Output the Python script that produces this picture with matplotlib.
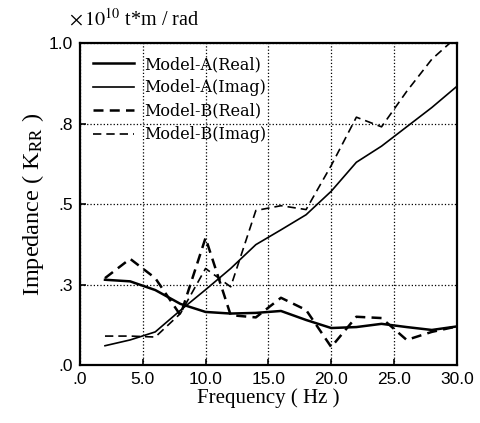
import matplotlib.pyplot as plt

plt.rcParams['mathtext.fontset'] = 'stix'

# Частота, Гц
freq = [2, 4, 6, 8, 10, 12, 14, 16, 18, 20, 22, 24, 26, 28, 30]
# Импеданс K_RR (x10^10 t*m/rad)
a_real = [0.265, 0.26, 0.233, 0.19, 0.165, 0.16, 0.162, 0.168, 0.14, 0.115, 0.118, 0.128, 0.118, 0.109, 0.12]
a_imag = [0.06, 0.078, 0.103, 0.17, 0.234, 0.30, 0.374, 0.42, 0.467, 0.54, 0.63, 0.68, 0.74, 0.80, 0.866]
b_real = [0.27, 0.33, 0.27, 0.155, 0.395, 0.155, 0.148, 0.209, 0.171, 0.056, 0.15, 0.146, 0.078, 0.103, 0.12]
b_imag = [0.09, 0.09, 0.087, 0.16, 0.30, 0.243, 0.48, 0.495, 0.483, 0.62, 0.77, 0.74, 0.85, 0.95, 1.02]

xticks = [0, 5, 10, 15, 20, 25, 30]
xtick_labels = ['.0', '5.0', '10.0', '15.0', '20.0', '25.0', '30.0']
yticks = [0, 0.25, 0.5, 0.75, 1.0]
ytick_labels = ['.0', '.3', '.5', '.8', '1.0']

fig = plt.figure(figsize=(4.81, 4.23), dpi=100)
ax = fig.add_axes([0.166, 0.137, 0.784, 0.761])

# Построим графики
ax.plot(freq, a_real, 'k-', lw=1.8, label='Model-A(Real)')
ax.plot(freq, a_imag, 'k-', lw=1.2, label='Model-A(Imag)')
ax.plot(freq, b_real, 'k--', lw=1.8, dashes=(4, 2.5), label='Model-B(Real)')
ax.plot(freq, b_imag, 'k--', lw=1.2, dashes=(5, 3), label='Model-B(Imag)')

ax.set_xlim(0, 30)
ax.set_ylim(0, 1.0)
ax.set_xticks(xticks)
ax.set_xticklabels(xtick_labels, fontfamily='Liberation Sans', fontsize=12.5)
ax.set_yticks(yticks)
ax.set_yticklabels(ytick_labels, fontfamily='Liberation Sans', fontsize=12.5)
ax.tick_params(direction='in', length=4, width=1.2, pad=5)

# сетка
ax.grid(which='major', color='k', linestyle=':', linewidth=0.9)
for s in ax.spines.values():
    s.set_linewidth(1.6)

# Подпишем оси
ax.set_xlabel('Frequency ( Hz )', fontfamily='Liberation Serif', fontsize=15, labelpad=1)
ax.set_ylabel(r'Impedance ( K$_{\rm RR}$ )', fontfamily='Liberation Serif', fontsize=17.5, labelpad=2)
ax.text(-0.03, 1.04, r'$\times\,10^{10}$ t*m / rad', transform=ax.transAxes,
        fontfamily='Liberation Serif', fontsize=14.5, va='bottom')

ax.legend(loc='upper left', frameon=False, prop={'family': 'DejaVu Serif', 'size': 11.5},
          handlelength=2.6, handletextpad=0.6, labelspacing=0.4, borderaxespad=0.4)

fig.savefig('out.png', dpi=100)
